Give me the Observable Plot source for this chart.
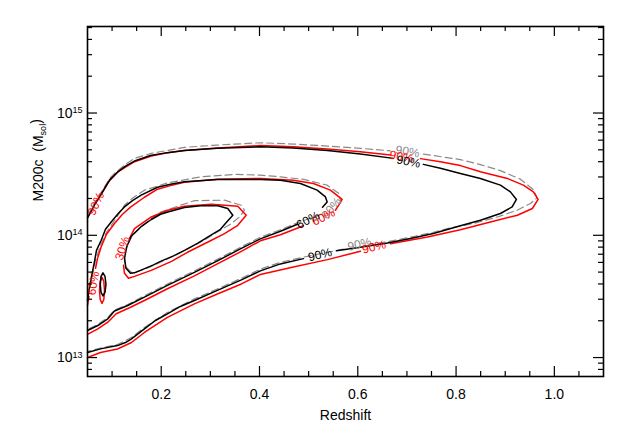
<!DOCTYPE html>
<html><head><meta charset="utf-8">
<script src="https://cdn.jsdelivr.net/npm/d3@7"></script>
<script src="https://cdn.jsdelivr.net/npm/@observablehq/plot@0.6"></script>
<style>html,body{margin:0;padding:0;background:#fff;}</style>
</head><body><div id="chart"></div>
<script>
// Axis ticks
const xMajor = [0.2, 0.4, 0.6, 0.8, 1.0];
const xMinor = [0.1, 0.15, 0.25, 0.3, 0.35, 0.45, 0.5, 0.55, 0.65, 0.7, 0.75, 0.85, 0.9, 0.95, 1.05];
const yMajor = [1e13, 1e14, 1e15];
const yMinor = [8e12, 9e12, 2e13, 3e13, 4e13, 5e13, 6e13, 7e13, 8e13, 9e13,
  2e14, 3e14, 4e14, 5e14, 6e14, 7e14, 8e14, 9e14, 2e15, 3e15, 4e15, 5e15];

// Contours: [redshift, log10(M200c / Msol)]; NaN rows are gaps under labels
const black90 = [[0.05,14.14],[0.0663,14.262],[0.0805,14.352],[0.0948,14.451],[0.111,14.516],[0.1273,14.566],[0.1456,14.607],[0.178,14.652],[0.2126,14.676],[0.2471,14.693],[0.3143,14.711],[0.4018,14.724],[0.469,14.713],[0.5382,14.693],[0.6053,14.664],[0.6725,14.629],
 [NaN,NaN],
 [0.7335,14.580],[0.7681,14.549],[0.8088,14.506],[0.8495,14.465],[0.8902,14.410],[0.9106,14.355],[0.9228,14.293],[0.9141,14.232],[0.8902,14.178],[0.8495,14.123],[0.8088,14.078],[0.7539,14.014],[0.7071,13.973],[0.6603,13.937],[0.6053,13.902],[0.5565,13.873],
 [NaN,NaN],
 [0.4894,13.809],[0.4426,13.766],[0.4018,13.709],[0.3631,13.635],[0.3143,13.549],[0.2675,13.467],[0.239,13.418],[0.2126,13.358],[0.1882,13.303],[0.1658,13.235],[0.1395,13.153],[0.1273,13.123],[0.111,13.098],[0.0765,13.071],[0.05,13.041]];

const red90 = [[0.05,14.115],[NaN,NaN],[0.0785,14.344],[0.0948,14.447],[0.111,14.516],[0.1456,14.602],[0.1797,14.648],[0.2126,14.675],[0.2471,14.693],[0.3143,14.713],[0.4018,14.734],[0.469,14.724],[0.5382,14.705],[0.6053,14.683],[0.6664,14.656],
 [NaN,NaN],
 [0.7274,14.627],[0.7681,14.601],[0.8088,14.570],[0.8495,14.519],[0.9044,14.465],[0.937,14.410],[0.9573,14.355],[0.9669,14.293],[0.9553,14.219],[0.9248,14.164],[0.8699,14.109],[0.8088,14.045],[0.7417,13.986],[0.6664,13.930],
 [NaN,NaN],
 [0.6053,13.869],[0.5382,13.801],[0.469,13.740],[0.4018,13.680],[0.3631,13.602],[0.3143,13.520],[0.2675,13.439],[0.2126,13.328],[0.1658,13.205],[0.1395,13.123],[0.111,13.070],[0.0765,13.041],[0.05,13.000]];

const gray90 = [[0.05,14.16],[0.0663,14.279],[0.0805,14.369],[0.0948,14.463],[0.1049,14.506],[0.1252,14.574],[0.1456,14.629],[0.1797,14.670],[0.2471,14.719],[0.3143,14.738],[0.4018,14.757],[0.469,14.746],[0.5382,14.730],[0.6053,14.711],[0.6664,14.691],
 [NaN,NaN],
 [0.7335,14.664],[0.8088,14.619],[0.8495,14.578],[0.8902,14.529],[0.9309,14.459],[0.9573,14.373],[0.9649,14.307],[0.9514,14.260],[0.9243,14.205],[0.8841,14.150],[0.8352,14.096],[0.7823,14.055],[0.7539,14.025],[0.7071,13.984],[0.6603,13.948],[0.6297,13.928],
 [NaN,NaN],
 [0.5707,13.887],[0.4894,13.821],[0.4426,13.779],[0.4018,13.723],[0.3631,13.649],[0.3143,13.561],[0.2675,13.480],[0.2126,13.369],[0.1658,13.246],[0.1395,13.164],[0.111,13.107],[0.0765,13.078],[0.05,13.049]];

const black60 = [[0.05,13.467],[0.0541,13.574],[0.0592,13.684],[0.0643,13.787],[0.0683,13.877],[0.0779,13.959],[0.0866,14.049],[0.0982,14.109],[0.113,14.180],[0.1252,14.232],[0.1415,14.283],[0.1592,14.328],[0.1924,14.393],[0.2189,14.418],[0.2471,14.437],[0.3143,14.457],[0.4018,14.457],[0.4426,14.451],[0.4833,14.424],[0.5173,14.369],[0.5342,14.314],[0.5377,14.273],[0.5282,14.230],
 [NaN,NaN],
 [0.4773,14.090],[0.4426,14.033],[0.4018,13.971],[0.3631,13.893],[0.3143,13.791],[0.2675,13.697],[0.2126,13.590],[0.1658,13.494],[0.1318,13.426],[0.1049,13.381],[0.0913,13.317],[0.071,13.262],[0.05,13.221]];

const red60 = [[0.05,13.426],[0.053,13.500],[NaN,NaN],[0.0663,13.730],[0.0704,13.811],[0.0775,13.902],[0.0887,14.008],[0.1049,14.096],[0.1212,14.172],[0.1375,14.230],[0.1659,14.311],[0.1924,14.377],[0.2189,14.406],[0.2471,14.434],[0.3143,14.459],[0.4018,14.465],[0.469,14.451],[0.5097,14.424],[0.5443,14.369],[0.5681,14.293],[0.5612,14.246],[0.5545,14.205],
 [NaN,NaN],
 [0.4894,14.078],[0.4426,14.004],[0.4018,13.955],[0.3631,13.869],[0.3143,13.766],[0.2675,13.668],[0.2126,13.563],[0.1658,13.467],[0.1354,13.407],[0.1084,13.358],[0.0913,13.289],[0.071,13.235],[0.05,13.189]];

const gray60 = [[0.05,13.484],[0.0582,13.631],[0.0663,13.795],[0.0765,13.918],[0.0887,14.025],[0.1029,14.107],[0.1252,14.246],[0.1415,14.303],[0.1659,14.369],[0.2134,14.429],[0.2814,14.478],[0.3492,14.498],[0.4018,14.492],[0.4426,14.478],[0.49,14.457],[0.5376,14.410],[0.5612,14.342],[0.5647,14.287],
 [NaN,NaN],
 [0.5262,14.172],[0.4773,14.102],[0.4426,14.045],[0.4018,13.984],[0.3631,13.906],[0.3143,13.803],[0.2675,13.709],[0.2126,13.602],[0.1658,13.504],[0.1318,13.434],[0.1049,13.389],[0.0913,13.328],[0.071,13.270],[0.05,13.230]];

const black30 = [[0.1375,13.689],[0.1283,13.730],[0.1253,13.811],[0.1294,13.902],[0.139,13.992],[0.1579,14.066],[0.1797,14.129],[0.1986,14.172],[0.2135,14.191],[0.2474,14.227],[0.28,14.242],[0.3152,14.242],[0.3355,14.219],[0.3457,14.164],[0.3328,14.107],[0.3206,14.049],[0.3003,14.000],[0.2738,13.934],[0.2474,13.877],[0.225,13.832],[0.1986,13.787],[0.1843,13.758],[0.1579,13.713],[0.1456,13.693],[0.1375,13.689]];

const red30 = [[0.1233,13.754],[0.1253,13.689],[0.1334,13.648],[0.1456,13.664],[0.1797,13.713],[0.2209,13.787],[0.2534,13.861],[0.2738,13.902],[0.3003,13.955],[0.3288,14.014],[0.3558,14.082],[0.3729,14.164],[0.3558,14.238],[0.3017,14.254],[0.2474,14.238],[0.2135,14.205],[0.1797,14.150],[0.1456,14.055],[0.1355,13.975]];

const gray30 = [[0.1395,13.697],[0.1273,13.746],[0.1253,13.828],[0.1314,13.918],[0.1416,14.000],[0.162,14.082],[0.1986,14.189],[0.2393,14.246],[0.2678,14.283],[0.3288,14.287],[0.3628,14.246],[0.3695,14.205],[0.3593,14.150],[0.341,14.090],[0.3166,14.033],[0.2902,13.967],[0.2596,13.902],[0.2291,13.836],[0.1986,13.779],[0.168,13.725],[0.1456,13.697],[0.1395,13.697]];

const blackIsland = [[0.0815,13.693],[0.0856,13.664],[0.0876,13.598],[0.0856,13.533],[0.0815,13.504],[0.0775,13.533],[0.076,13.598],[0.0775,13.664],[0.0815,13.693]];
const redIsland = [[0.0795,13.656],[0.0832,13.623],[0.0846,13.549],[0.0832,13.475],[0.0795,13.443],[0.0758,13.475],[0.0744,13.549],[0.0758,13.623],[0.0795,13.656]];

// Contour labels: [text, redshift, log10 M]
const blackLabels = [["90%",0.7032,14.602],["90%",0.5231,13.840],["60%",0.4987,14.123]];
const redLabels = [["90%",0.6890,14.643],["90%",0.6330,13.904],["60%",0.5303,14.148],["90%",0.0673,14.258],["30%",0.1212,13.893],["60%",0.0622,13.607]];
const grayLabels = [["90%",0.7012,14.684],["90%",0.6035,13.926],["60%",0.5465,14.221]];

// ---- styling ----
const BLACK = "#000", RED = "#ff0000", GRAY = "#8a8a8a";
const blackAngles = [11, -14, -27];
const redAngles = [9, -14, -27, -65, -72, -80];
const grayAngles = [9, -14, -50];

const line = (arr, stroke, extra = {}) => Plot.line(arr, {x: d => d[0], y: d => 10 ** d[1], stroke, strokeWidth: 1.5, ...extra});
const dashed = {strokeWidth: 1.2, strokeDasharray: "7,4"};
const labels = (arr, fill, angles) => Plot.text(arr, {x: d => d[1], y: d => 10 ** d[2], text: d => d[0], fill, fontSize: 12, rotate: (d, i) => angles[i]});

const chart = Plot.plot({
  width: 629, height: 432,
  marginLeft: 87, marginRight: 26, marginTop: 26, marginBottom: 56,
  style: {fontFamily: "'Liberation Sans', Arial, sans-serif", background: "#fff", color: "#000"},
  x: {domain: [0.05, 1.1]},
  y: {type: "log", domain: [7e12, 5.1e15]},
  marks: [
    line(gray90, GRAY, dashed), line(gray60, GRAY, dashed), line(gray30, GRAY, dashed),
    line(red90, RED), line(red60, RED), line(red30, RED), line(redIsland, RED),
    line(black90, BLACK), line(black60, BLACK), line(black30, BLACK), line(blackIsland, BLACK),
    labels(grayLabels, GRAY, grayAngles),
    labels(redLabels, RED, redAngles),
    labels(blackLabels, BLACK, blackAngles),
    Plot.tickX(xMajor, {x: d => d, insetTop: 340, stroke: BLACK, strokeWidth: 1.2}),
    Plot.tickX(xMajor, {x: d => d, insetBottom: 340, stroke: BLACK, strokeWidth: 1.2}),
    Plot.tickX(xMinor, {x: d => d, insetTop: 345, stroke: BLACK, strokeWidth: 1.2}),
    Plot.tickX(xMinor, {x: d => d, insetBottom: 345, stroke: BLACK, strokeWidth: 1.2}),
    Plot.tickY(yMajor, {y: d => d, insetRight: 506, stroke: BLACK, strokeWidth: 1.2}),
    Plot.tickY(yMajor, {y: d => d, insetLeft: 506, stroke: BLACK, strokeWidth: 1.2}),
    Plot.tickY(yMinor, {y: d => d, insetRight: 511, stroke: BLACK, strokeWidth: 1.2}),
    Plot.tickY(yMinor, {y: d => d, insetLeft: 511, stroke: BLACK, strokeWidth: 1.2}),
    Plot.axisX({ticks: xMajor, tickSize: 0, tickPadding: 13, tickFormat: d3.format(".1f"), fontSize: 14, label: null}),
    Plot.axisY({ticks: yMajor, tickSize: 0, tickPadding: 5, tickFormat: d => "10^" + Math.round(Math.log10(d)), fontSize: 14, label: null}),
    Plot.text(["Redshift"], {text: d => d, frameAnchor: "bottom", dy: 39, lineAnchor: "middle", fontSize: 14}),
    Plot.text(["M200c (Msol)"], {text: d => d, frameAnchor: "left", dx: -49, rotate: -90, fontSize: 14}),
    Plot.frame({stroke: BLACK, strokeWidth: 1.6})
  ]
});
document.getElementById("chart").appendChild(chart);

// superscripts / subscripts
const NS = "http://www.w3.org/2000/svg";
const svg = chart.tagName.toLowerCase() === "svg" ? chart : chart.querySelector("svg");
svg.querySelectorAll("text").forEach(t => {
  const s = t.textContent;
  const m = /^10\^(\d+)$/.exec(s);
  if (m) {
    t.textContent = "";
    t.setAttribute("font-size", "14");
    const a = document.createElementNS(NS, "tspan"); a.textContent = "10"; t.appendChild(a);
    const b = document.createElementNS(NS, "tspan"); b.textContent = m[1];
    b.setAttribute("dy", "-0.5em"); b.setAttribute("font-size", "9"); t.appendChild(b);
  } else if (/^\d\.\d$/.test(s)) {
    t.setAttribute("font-size", "14");
  } else if (s === "M200c (Msol)") {
    t.textContent = "";
    t.setAttribute("style", "white-space:pre");
    const a = document.createElementNS(NS, "tspan"); a.textContent = "M200c  (M"; t.appendChild(a);
    const b = document.createElementNS(NS, "tspan"); b.textContent = "sol";
    b.setAttribute("dy", "0.35em"); b.setAttribute("font-size", "9"); t.appendChild(b);
    const c = document.createElementNS(NS, "tspan"); c.textContent = ")";
    c.setAttribute("dy", "-0.35em"); t.appendChild(c);
  }
});
</script></body></html>
